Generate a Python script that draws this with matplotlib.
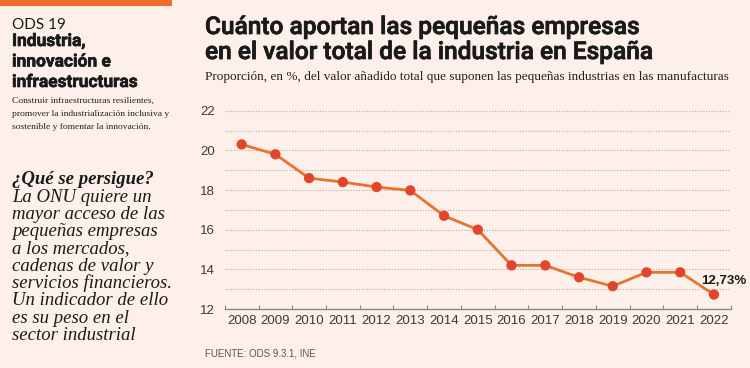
import matplotlib
matplotlib.use("Agg")
import matplotlib.pyplot as plt
from matplotlib.patches import Rectangle
import matplotlib.patheffects as pe

years = [2008, 2009, 2010, 2011, 2012, 2013, 2014, 2015, 2016, 2017, 2018, 2019, 2020, 2021, 2022]
values = [20.3, 19.8, 18.6, 18.4, 18.15, 17.98, 16.7, 16.0, 14.2, 14.2, 13.6, 13.15, 13.85, 13.85, 12.73]
y_ticks = [12, 14, 16, 18, 20, 22]
grid_levels = [13, 14, 15, 16, 17, 18, 19, 20, 21, 22]
last_label = "12,73%"

BG = "#fdf0eb"
LINE = "#e8732f"
DOT = "#e1462b"
ORANGE = "#f26d25"
TXT = "#1a1a1a"
GREY = "#3a3a3a"

W, H = 750, 368
fig = plt.figure(figsize=(W / 100, H / 100), dpi=100, facecolor=BG)

def fx(px):
    return px / W

def fy(py):
    return 1 - py / H

heavy = [pe.withStroke(linewidth=0.45, foreground=TXT)]
semi = [pe.withStroke(linewidth=0.55, foreground=TXT)]

# top orange bar
fig.patches.append(Rectangle((0, fy(6)), fx(172), 6 / H, transform=fig.transFigure,
                             facecolor=ORANGE, edgecolor="none"))

# left column
fig.text(fx(12), fy(29), "ODS 19", fontsize=11, family="Lato", weight="normal",
         color=TXT, va="baseline")
for i, line in enumerate(["Industria,", "innovación e", "infraestructuras"]):
    fig.text(fx(12), fy(46 + i * 20.5), line, fontsize=12.5, family="Roboto",
             weight="bold", color=TXT, va="baseline", path_effects=heavy)
for i, line in enumerate(["Construir infraestructuras resilientes,",
                          "promover la industrialización inclusiva y",
                          "sostenible y fomentar la innovación."]):
    fig.text(fx(12), fy(103 + i * 13), line, fontsize=6.8, family="Liberation Serif",
             color="#222222", va="baseline")

fig.text(fx(12), fy(184), "¿Qué se persigue?", fontsize=13.5, family="Liberation Serif",
         style="italic", weight="bold", color=TXT, va="baseline")
body = ["La ONU quiere un", "mayor acceso de las", "pequeñas empresas", "a los mercados,",
        "cadenas de valor y", "servicios financieros.", "Un indicador de ello",
        "es su peso en el", "sector industrial"]
for i, line in enumerate(body):
    fig.text(fx(12), fy(201.5 + i * 17.3), line, fontsize=13.5, family="Liberation Serif",
             style="italic", color=TXT, va="baseline")

# title & subtitle
fig.text(fx(205), fy(34), "Cuánto aportan las pequeñas empresas", fontsize=17.6,
         family="Roboto", weight="medium", color=TXT, va="baseline", path_effects=semi)
fig.text(fx(205), fy(59), "en el valor total de la industria en España", fontsize=17.6,
         family="Roboto", weight="medium", color=TXT, va="baseline", path_effects=semi)
fig.text(fx(205), fy(80), "Proporción, en %, del valor añadido total que suponen las pequeñas industrias en las manufacturas",
         fontsize=9.55, family="Liberation Serif", color="#222222", va="baseline")

fig.text(fx(205), fy(356), "FUENTE: ODS 9.3.1, INE", fontsize=7, family="Liberation Sans",
         color="#555555", va="baseline")

# chart axes
px_per_unit = 19.83
y_top_px = 110.7 - 0.5 * px_per_unit
ax = fig.add_axes([fx(224.8), fy(309), fx(730.8) - fx(224.8), (309 - y_top_px) / H])
ax.set_facecolor("none")
ax.set_xlim(2007.5, 2022.5)
ax.set_ylim(12, 22.5)

for g in grid_levels:
    ax.axhline(g, color="#b5aaa5", lw=0.8, ls=(0, (1, 1.5)), zorder=1)

ax.plot(years, values, color=LINE, lw=2, zorder=3)
ax.scatter(years, values, s=55, color=DOT, zorder=4, edgecolors="none")

ax.annotate(last_label, (years[-1], values[-1]), xytext=(-9, 10), textcoords="offset points",
            fontsize=9.5, weight="bold", family="Liberation Sans", color=TXT,
            ha="left", va="center")

for s in ["top", "right", "left"]:
    ax.spines[s].set_visible(False)
ax.spines["bottom"].set_color("#888888")
ax.spines["bottom"].set_linewidth(1)

ax.set_yticks(y_ticks)
ax.set_yticklabels([str(v) for v in y_ticks])
ax.tick_params(axis="y", length=0, pad=7, labelsize=9.5, labelcolor=GREY)
ax.set_xticks(years)
ax.set_xticklabels([str(y) for y in years])
ax.tick_params(axis="x", length=0, pad=4, labelsize=9.5, labelcolor=GREY)
ax.set_xticks([y - 0.5 for y in years] + [years[-1] + 0.5], minor=True)
ax.tick_params(axis="x", which="minor", length=3, width=0.8, color="#888888", direction="in")
for lab in ax.get_xticklabels() + ax.get_yticklabels():
    lab.set_family("Liberation Sans")

fig.savefig("out.png", dpi=100, facecolor=BG)
